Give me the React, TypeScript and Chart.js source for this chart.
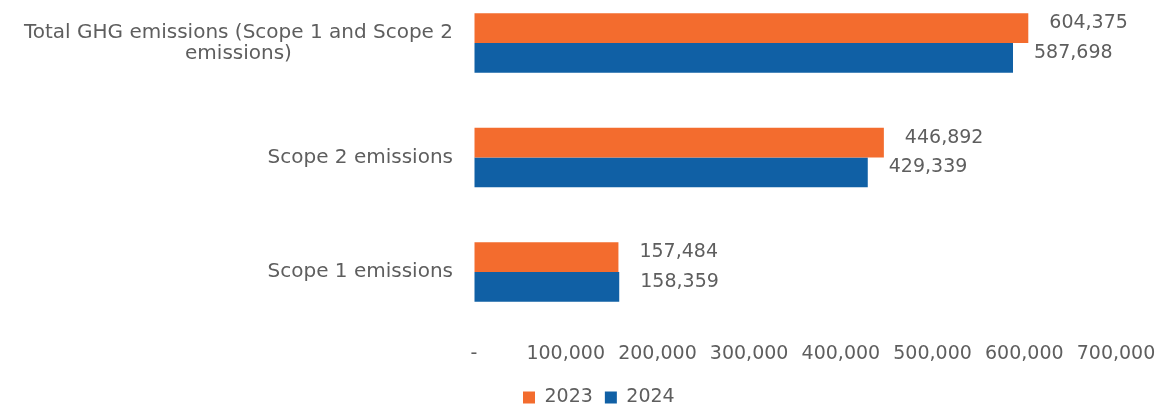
import React, { useEffect, useRef } from 'react';
import { Chart, registerables } from 'chart.js';

Chart.register(...registerables);

// ---- data ----
const categories: (string | string[])[] = [
  ['Total GHG emissions (Scope 1 and Scope 2', 'emissions)'],
  'Scope 2 emissions',
  'Scope 1 emissions',
];
const seriesNames = ['2023', '2024'];
const values2023 = [604375, 446892, 157484];
const values2024 = [587698, 429339, 158359];
const xMin = 0;
const xMax = 700000;
const xStep = 100000;

// ---- style ----
const FONT = "'DejaVu Sans', 'Liberation Sans', Arial, sans-serif";
const TEXT = '#5e5e5e';
const ORANGE = '#F36C2E';
const BLUE = '#1060A5';

const fmt = (v: number) => v.toLocaleString('en-US');

const categoryLabelPlugin = {
  id: 'categoryLabels',
  afterDraw(chart: any) {
    const { ctx, chartArea } = chart;
    const yScale = chart.scales.y;
    ctx.save();
    ctx.font = `20px ${FONT}`;
    ctx.fillStyle = TEXT;
    ctx.textAlign = 'center';
    ctx.textBaseline = 'middle';
    const right = chartArea.left - 21;
    const lh = 21;
    categories.forEach((label, i) => {
      const lines = Array.isArray(label) ? label : [label];
      const w = Math.max(...lines.map((l) => ctx.measureText(l).width));
      const cx = right - w / 2;
      const cy = yScale.getPixelForValue(i);
      lines.forEach((l, j) => {
        ctx.fillText(l, cx, cy + (j - (lines.length - 1) / 2) * lh);
      });
    });
    ctx.restore();
  },
};

const valueLabelPlugin = {
  id: 'valueLabels',
  afterDatasetsDraw(chart: any) {
    const { ctx } = chart;
    ctx.save();
    ctx.font = `19px ${FONT}`;
    ctx.fillStyle = TEXT;
    ctx.textAlign = 'left';
    ctx.textBaseline = 'middle';
    chart.data.datasets.forEach((ds: any, d: number) => {
      const meta = chart.getDatasetMeta(d);
      meta.data.forEach((el: any, i: number) => {
        ctx.fillText(fmt(ds.data[i]), el.x + 21, el.y - 5);
      });
    });
    ctx.restore();
  },
};

const legendShiftPlugin = {
  id: 'legendShift',
  afterLayout(chart: any) {
    const lg = chart.legend;
    if (!lg) return;
    const w = lg.right - lg.left;
    lg.left = chart.chartArea.left + 37;
    lg.right = lg.left + w;
  },
};

export default function App() {
  const canvasRef = useRef<HTMLCanvasElement | null>(null);

  useEffect(() => {
    if (!canvasRef.current) return;
    const chart = new Chart(canvasRef.current, {
      type: 'bar',
      data: {
        labels: categories.map((c) => (Array.isArray(c) ? c.join(' ') : c)),
        datasets: [
          {
            label: seriesNames[0],
            data: values2023,
            backgroundColor: ORANGE,
            borderWidth: 0,
            clip: false as any,
          },
          {
            label: seriesNames[1],
            data: values2024,
            backgroundColor: BLUE,
            borderWidth: 0,
            clip: false as any,
          },
        ],
      },
      options: {
        indexAxis: 'y',
        animation: false,
        responsive: true,
        maintainAspectRatio: false,
        datasets: {
          bar: { categoryPercentage: 0.52, barPercentage: 1 },
        },
        layout: { padding: { left: 474, top: 43, right: 51, bottom: 0 } },
        scales: {
          y: {
            type: 'category',
            display: false,
            offset: false,
          },
          x: {
            type: 'linear',
            min: xMin,
            max: xMax,
            grid: {
              display: true,
              color: 'rgba(0,0,0,0)',
              drawOnChartArea: false,
              drawTicks: true,
              tickLength: 71,
            },
            border: { display: false },
            ticks: {
              stepSize: xStep,
              color: TEXT,
              font: { family: FONT, size: 19 },
              padding: 0,
              maxRotation: 0,
              autoSkip: false,
              callback: (v: any) => (Number(v) === 0 ? '-' : fmt(Number(v))),
            },
            afterFit: (scale: any) => {
              scale.height = 104;
            },
          },
        },
        plugins: {
          legend: {
            position: 'bottom',
            align: 'start',
            labels: {
              boxWidth: 12,
              boxHeight: 12,
              padding: 12,
              color: TEXT,
              font: { family: FONT, size: 19 },
            },
          },
          tooltip: { enabled: false },
        },
      },
      plugins: [categoryLabelPlugin, valueLabelPlugin, legendShiftPlugin],
    });
    return () => chart.destroy();
  }, []);

  return (
    <div
      style={{
        position: 'absolute',
        left: 0,
        top: 0,
        width: 1167,
        height: 417,
        background: '#ffffff',
      }}
    >
      <canvas ref={canvasRef} />
    </div>
  );
}
